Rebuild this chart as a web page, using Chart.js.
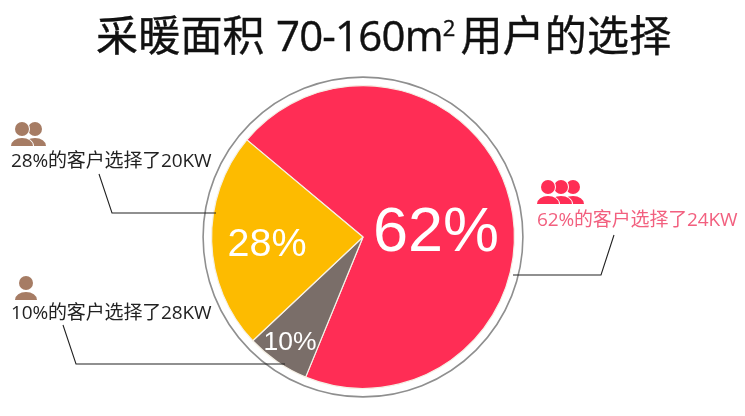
<!DOCTYPE html>
<html>
<head>
<meta charset="utf-8">
<script src="https://cdn.jsdelivr.net/npm/chart.js@4/dist/chart.umd.min.js"></script>
<style>
    html, body { margin: 0; padding: 0; background: #fff; }
    #wrap { position: relative; width: 745px; height: 416px; overflow: hidden; font-family: "Open Sans", "Noto Sans CJK SC", sans-serif; }
    #pie { position: absolute; left: 0; top: 0; }
    .title { position: absolute; left: 96px; top: 7px; font-size: 42px; line-height: 56px; color: #111; white-space: nowrap; letter-spacing: 0.2px; -webkit-text-stroke: 0.4px #111; }
    .title .num { letter-spacing: -0.8px; }
    .title sup { font-size: 22px; line-height: 0; vertical-align: 15px; margin-right: 5px; letter-spacing: 0; }
    .note { position: absolute; font-size: 19px; line-height: 24px; color: #222; white-space: nowrap; letter-spacing: -0.15px; }
</style>
</head>
<body>
<div id="wrap">
    <canvas id="pie" width="745" height="416"></canvas>
    <div class="title">采暖面积 <span class="num">70-160m</span><sup>2</sup>用户的选择</div>
    <div class="note" id="note0" style="left:537px; top:207px; color:#f2607f;"></div>
    <div class="note" id="note1" style="left:11px; top:148px;"></div>
    <div class="note" id="note2" style="left:11px; top:300px;"></div>
</div>
<script>
// ------------------------------ chart data -------------------------------
// slice sizes are read off the drawn wedges, the printed percentages differ from them
var categories = ['24KW', '28KW', '20KW'];
var sliceValues = [70.1, 6.8, 23.1];
var sliceLabels = ['62%', '10%', '28%'];
var sliceColors = ['#ff2d55', '#7a6e69', '#fdbb00'];
var noteTexts = ['62%的客户选择了24KW', '28%的客户选择了20KW', '10%的客户选择了28KW'];

noteTexts.forEach(function(text, i) {
    document.getElementById('note' + i).textContent = text;
});

function drawPerson(ctx, x, headY, color) {
    ctx.fillStyle = color;
    ctx.beginPath();
    ctx.arc(x, headY, 7, 0, Math.PI * 2);
    ctx.fill();
    ctx.beginPath();
    ctx.ellipse(x, headY + 17, 11, 8, 0, Math.PI, Math.PI * 2);
    ctx.closePath();
    ctx.fill();
}

function drawGroup(ctx, xs, headY, color) {
    // the front figure is drawn last with a white edge so the group stays readable
    xs.forEach(function(x, i) {
        if (i > 0) {
            ctx.fillStyle = '#fff';
            ctx.beginPath();
            ctx.arc(x, headY, 8, 0, Math.PI * 2);
            ctx.fill();
            ctx.beginPath();
            ctx.ellipse(x, headY + 17, 12, 9, 0, Math.PI, Math.PI * 2);
            ctx.closePath();
            ctx.fill();
        }
        drawPerson(ctx, x, headY, color);
    });
}

function drawLeader(ctx, points) {
    ctx.beginPath();
    points.forEach(function(p, i) {
        if (i === 0) ctx.moveTo(p[0], p[1]);
        else ctx.lineTo(p[0], p[1]);
    });
    ctx.stroke();
}

var decorPlugin = {
    id: 'decor',
    beforeDatasetsDraw: function(chart) {
        let ctx = chart.ctx;
        let arc = chart.getDatasetMeta(0).data[0];
        ctx.save();
        ctx.strokeStyle = '#8f8f8f';
        ctx.lineWidth = 1.6;
        ctx.beginPath();
        ctx.arc(arc.x, arc.y, arc.outerRadius + 8.5, 0, Math.PI * 2);
        ctx.stroke();
        ctx.restore();
    },
    afterDatasetsDraw: function(chart) {
        let ctx = chart.ctx;
        ctx.save();

        ctx.strokeStyle = '#222';
        ctx.lineWidth = 1.1;
        drawLeader(ctx, [[99, 174], [112, 213], [216, 213]]);
        drawLeader(ctx, [[63, 325], [76, 364], [285, 364]]);
        drawLeader(ctx, [[614, 235], [601, 275], [513, 275]]);

        drawGroup(ctx, [35, 22], 129, '#a67c64');
        drawPerson(ctx, 26, 283, '#a67c64');
        drawGroup(ctx, [573, 561, 548], 187, '#ff2d55');

        ctx.fillStyle = '#fff';
        ctx.textAlign = 'center';
        ctx.textBaseline = 'middle';
        ctx.font = '63px "Liberation Sans"';
        ctx.fillText(sliceLabels[0], 436, 234);
        ctx.font = '39.5px "Liberation Sans"';
        ctx.fillText(sliceLabels[2], 267, 245);
        ctx.font = '26.5px "Liberation Sans"';
        ctx.fillText(sliceLabels[1], 290, 343);
        ctx.restore();
    }
};

new Chart(document.getElementById('pie'), {
    type: 'pie',
    data: {
        labels: categories,
        datasets: [{
            data: sliceValues,
            backgroundColor: sliceColors,
            borderColor: '#f5f0e6',
            borderWidth: 1.2,
            borderAlign: 'center'
        }]
    },
    options: {
        responsive: false,
        animation: false,
        rotation: -50.1,
        layout: { padding: { left: 211, right: 230, top: 85, bottom: 27 } },
        plugins: { legend: { display: false }, tooltip: { enabled: false } }
    },
    plugins: [decorPlugin]
});
</script>
</body>
</html>
